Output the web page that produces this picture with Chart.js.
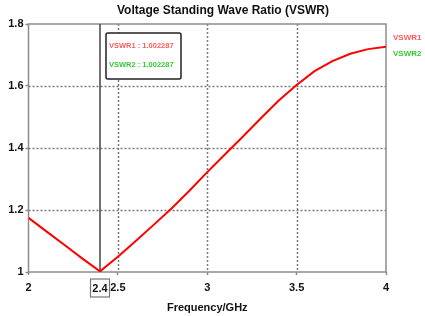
<!DOCTYPE html>
<html>
<head>
<meta charset="utf-8">
<script src="https://cdn.jsdelivr.net/npm/chart.js@4/dist/chart.umd.min.js"></script>
<style>
  html, body { margin: 0; padding: 0; background: #fff; }
  #wrap { width: 425px; height: 316px; }
</style>
</head>
<body>
<div id="wrap"><canvas id="vswrChart"></canvas></div>
<script>
// VSWR 曲线数据
const freqGHz = [2.0, 2.1, 2.2, 2.3, 2.4, 2.5, 2.6, 2.7, 2.8, 2.9, 3.0,
                 3.1, 3.2, 3.3, 3.4, 3.5, 3.6, 3.7, 3.8, 3.9, 4.0];
const vswr1 = [1.175, 1.131, 1.088, 1.044, 1.002, 1.049, 1.100, 1.152, 1.205, 1.262, 1.322,
               1.380, 1.437, 1.496, 1.553, 1.603, 1.648, 1.680, 1.704, 1.719, 1.727];
const xTicks = [2, 2.5, 3, 3.5, 4];
const yTicks = [1, 1.2, 1.4, 1.6, 1.8];
const markerFreq = 2.4;
const markerLabels = ['VSWR1 : 1.002287', 'VSWR2 : 1.002287'];
const seriesNames = ['VSWR1', 'VSWR2'];
const seriesColors = ['#ff5c5c', '#33cc33'];
const chartTitle = 'Voltage Standing Wave Ratio (VSWR)';

const FONT = '"Liberation Sans", Arial, sans-serif';

const framePlugin = {
  id: 'frame',
  beforeDatasetsDraw(chart) {
    const ctx = chart.ctx;
    const { top, bottom, left, right } = chart.chartArea;
    const xs = chart.scales.x, ys = chart.scales.y;
    ctx.save();
    // 虚线网格
    ctx.setLineDash([2, 2]);
    ctx.strokeStyle = '#7a7a7a';
    ctx.lineWidth = 1.5;
    ctx.beginPath();
    xTicks.slice(1, -1).forEach(function(v) {
      const x = Math.round(xs.getPixelForValue(v)) + 0.5;
      ctx.moveTo(x, top); ctx.lineTo(x, bottom);
    });
    yTicks.slice(1, -1).forEach(function(v) {
      const y = Math.round(ys.getPixelForValue(v)) + 0.5;
      ctx.moveTo(left, y); ctx.lineTo(right, y);
    });
    ctx.stroke();
    // 边框
    ctx.setLineDash([]);
    ctx.strokeStyle = '#8c8c8c';
    ctx.strokeRect(left, top, right - left, bottom - top);
    // marker 竖线
    const mx = xs.getPixelForValue(markerFreq);
    ctx.strokeStyle = '#444';
    ctx.beginPath();
    ctx.moveTo(mx, top); ctx.lineTo(mx, bottom);
    ctx.stroke();
    ctx.restore();
  },
  afterDraw(chart) {
    const ctx = chart.ctx;
    const { top, bottom, right } = chart.chartArea;
    const xs = chart.scales.x;
    const mx = xs.getPixelForValue(markerFreq);
    ctx.save();

    // 标题
    ctx.font = 'bold 12px ' + FONT;
    ctx.textAlign = 'center';
    ctx.textBaseline = 'middle';
    ctx.fillStyle = '#111';
    ctx.fillText(chartTitle, 223, 11);

    // marker 数值框
    const bx = mx + 6, by = top + 9, bw = 75, bh = 46;
    ctx.fillStyle = '#fff';
    ctx.strokeStyle = '#222';
    ctx.lineWidth = 1.5;
    ctx.beginPath();
    ctx.roundRect(bx, by, bw, bh, 2);
    ctx.fill();
    ctx.stroke();
    ctx.font = 'bold 7.5px ' + FONT;
    ctx.textAlign = 'left';
    markerLabels.forEach(function(t, i) {
      ctx.fillStyle = seriesColors[i];
      ctx.fillText(t, bx + 3, by + 12.5 + i * 19);
    });

    // 右侧图例
    ctx.font = 'bold 8px ' + FONT;
    seriesNames.forEach(function(t, i) {
      ctx.fillStyle = seriesColors[i];
      ctx.fillText(t, right + 7, top + 13.5 + i * 16.5);
    });

    // 2.4 标签加框
    ctx.font = 'bold 11px ' + FONT;
    ctx.textAlign = 'center';
    ctx.fillStyle = '#111';
    ctx.fillText(String(markerFreq), mx, bottom + 16.5);
    ctx.strokeStyle = '#777';
    ctx.lineWidth = 1.2;
    ctx.strokeRect(mx - 9.5, bottom + 7, 19, 18);
    ctx.restore();
  }
};

new Chart(document.getElementById('vswrChart'), {
  type: 'scatter',
  data: {
    datasets: [{
      label: 'VSWR1',
      data: freqGHz.map((f, i) => ({ x: f, y: vswr1[i] })),
      showLine: true,
      borderColor: '#ff0000',
      borderWidth: 2,
      pointRadius: 0,
      tension: 0,
    }]
  },
  plugins: [framePlugin],
  options: {
    responsive: true,
    maintainAspectRatio: false,
    animation: false,
    layout: { padding: { top: 24, right: 39 } },
    plugins: {
      legend: { display: false },
      tooltip: { enabled: false },
      title: { display: false }
    },
    scales: {
      x: {
        type: 'linear', min: 2, max: 4,
        afterBuildTicks: s => { s.ticks = xTicks.map(v => ({ value: v })); },
        afterFit: s => { s.height = 44; },
        grid: { drawOnChartArea: false, tickLength: 3, tickColor: '#8c8c8c', tickWidth: 1.5 },
        border: { display: false },
        ticks: {
          color: '#111', padding: 6, font: { family: FONT, size: 11, weight: 'bold' },
          callback: v => String(v)
        },
        title: {
          display: true, text: 'Frequency/GHz', color: '#111',
          font: { family: FONT, size: 11, weight: 'bold' },
          padding: { top: 0, bottom: 1 }
        }
      },
      y: {
        min: 1, max: 1.8,
        afterBuildTicks: s => { s.ticks = yTicks.map(v => ({ value: v })); },
        afterFit: s => { s.width = 28.5; },
        grid: { drawOnChartArea: false, tickLength: 3, tickColor: '#8c8c8c', tickWidth: 1.5 },
        border: { display: false },
        ticks: {
          color: '#111', padding: 2, font: { family: FONT, size: 11, weight: 'bold' },
          callback: v => String(v)
        }
      }
    }
  }
});
</script>
</body>
</html>
